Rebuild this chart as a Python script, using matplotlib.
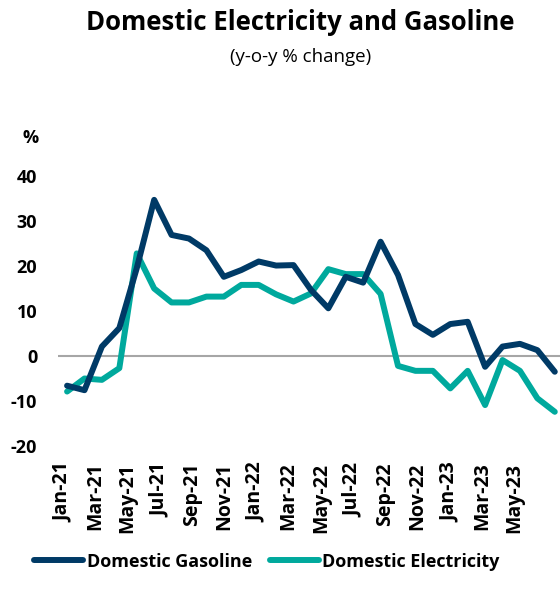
import numpy as np
import matplotlib
matplotlib.use("Agg")
from matplotlib import pyplot as plt

plt.rcParams['font.family'] = ['Open Sans', 'DejaVu Sans']

months = ['Jan-21', 'Feb-21', 'Mar-21', 'Apr-21', 'May-21', 'Jun-21', 'Jul-21', 'Aug-21',
          'Sep-21', 'Oct-21', 'Nov-21', 'Dec-21', 'Jan-22', 'Feb-22', 'Mar-22', 'Apr-22',
          'May-22', 'Jun-22', 'Jul-22', 'Aug-22', 'Sep-22', 'Oct-22', 'Nov-22', 'Dec-22',
          'Jan-23', 'Feb-23', 'Mar-23', 'Apr-23', 'May-23']
gasoline = [-6.6, -7.6, 2.1, 6.2, 19.5, 34.7, 26.9, 26.1, 23.5, 17.6, 19.1, 21.0, 20.1,
            20.2, 14.7, 10.6, 17.6, 16.3, 25.4, 18.0, 7.1, 4.7, 7.1, 7.6, -2.4, 2.1, 2.7,
            1.3, -3.5]
electricity = [-7.9, -5.0, -5.3, -2.7, 22.8, 15.0, 11.9, 11.9, 13.2, 13.2, 15.8, 15.8, 13.7,
               12.1, 13.9, 19.3, 18.2, 18.2, 13.8, -2.2, -3.3, -3.3, -7.2, -3.3, -10.9, -0.9,
               -3.3, -9.4, -12.4]
yticks = [-20, -10, 0, 10, 20, 30, 40]

navy = '#003A66'
teal = '#00A99D'

fig = plt.figure(figsize=(5.6, 6.04), dpi=100)
ax = fig.add_axes([0.1036, 0.2616, 0.8964, 0.447])

x = np.arange(len(months))
ax.axhline(0, color='#A6A6A6', lw=1.5, zorder=1)
ax.plot(x, gasoline, color=navy, lw=4.3, solid_joinstyle='round', solid_capstyle='round',
        label='Domestic Gasoline', zorder=3)
ax.plot(x, electricity, color=teal, lw=4.3, solid_joinstyle='round', solid_capstyle='round',
        label='Domestic Electricity', zorder=2)

ax.set_xlim(-0.52, 28.3)
ax.set_ylim(-20, 40)
ax.set_yticks(yticks)
ax.set_yticklabels([str(v) for v in yticks], fontsize=13, fontweight='bold')

# the category labels in the original sit a bit tighter than the data points
label_idx = np.arange(0, len(months), 2)
ax.set_xticks(label_idx * 0.925 - 0.23)
ax.set_xticklabels([months[i] for i in label_idx], rotation=90, fontsize=14,
                   fontweight='bold')
ax.tick_params(length=0, pad=12)
ax.tick_params(axis='y', pad=15)
for s in ax.spines.values():
    s.set_visible(False)

fig.text(0.536, 0.962, 'Domestic Electricity and Gasoline', ha='center', va='center',
         fontsize=18.5, fontweight='bold')
fig.text(0.536, 0.905, '(y-o-y % change)', ha='center', va='center', fontsize=13.5)
fig.text(0.055, 0.772, '%', ha='center', va='center', fontsize=13, fontweight='bold')

fig.legend(loc='center', bbox_to_anchor=(0.477, 0.07), ncol=2, frameon=False,
           prop={'size': 13, 'weight': 'bold'}, handlelength=2.7, handletextpad=0.2,
           columnspacing=1.0)

fig.savefig('out.png', dpi=100)
